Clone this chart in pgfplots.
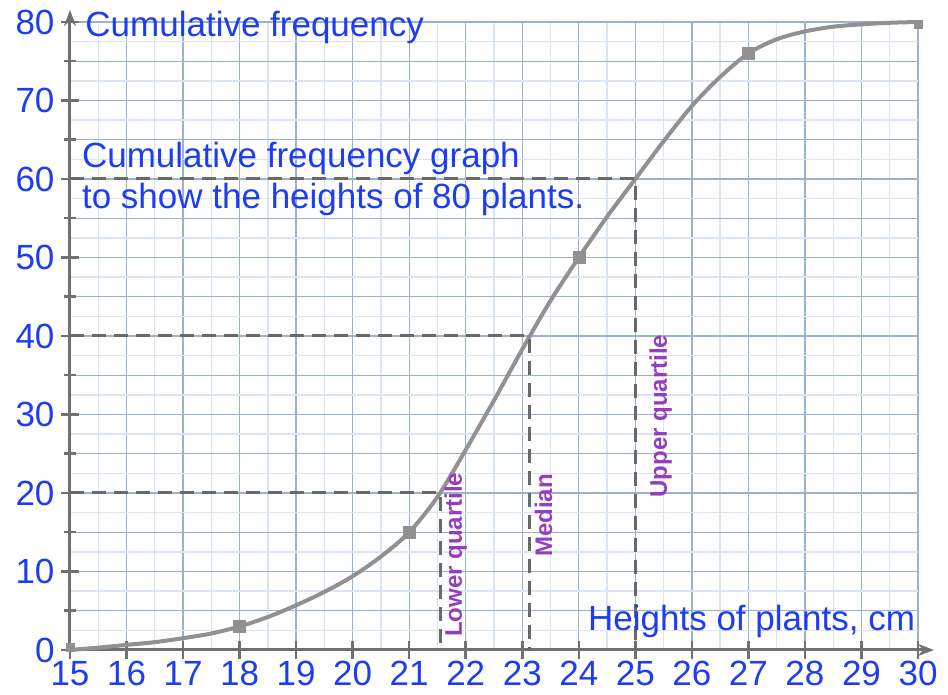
\documentclass[border=0pt]{standalone}
\usepackage{pgfplots}
\pgfplotsset{compat=1.18}
\usepackage{fontspec}
\setmainfont{Liberation Sans}
\usetikzlibrary{arrows.meta,calc}
\definecolor{txtblue}{RGB}{30,60,240}
\definecolor{qpurple}{RGB}{150,60,190}
\definecolor{gmaj}{RGB}{155,178,206}
\definecolor{gmin}{RGB}{220,229,242}
\definecolor{axgray}{RGB}{112,112,112}
\definecolor{curvegray}{RGB}{145,145,145}
\definecolor{dashgray}{RGB}{105,105,105}
\begin{document}
\begin{tikzpicture}
\begin{axis}[
  name=ax,
  scale only axis, width=848pt, height=628pt,
  xmin=15, xmax=30, ymin=0, ymax=80,
  axis lines=left,
  clip=false,
  xtick={15,16,...,30},
  ytick={0,10,...,80},
  minor xtick={15.5,16.5,...,29.5},
  minor ytick={2.5,7.5,...,77.5},
  extra y ticks={5,15,...,75},
  extra y tick labels={},
  extra y tick style={major tick length=12pt, major grid style={gmaj, line width=1.3pt}},
  grid=both,
  major grid style={gmaj, line width=1.3pt},
  minor grid style={gmin, line width=1.3pt},
  minor tick length=0pt,
  major tick length=18pt,
  tick align=center,
  tick style={axgray, line width=2.5pt},
  axis line style={axgray, line width=3pt},
  x axis line style={-{Stealth[length=16pt,width=12pt]}, shorten >=-16pt},
  y axis line style={-{Stealth[length=16pt,width=12pt]}, shorten >=-12pt},
  /pgf/number format/assume math mode=true,
  ticklabel style={font=\fontsize{35}{38}\selectfont, text=txtblue},
  yticklabel style={xshift=-3pt},
  xticklabel style={yshift=1pt},
]
\addplot[curvegray, line width=4pt, smooth] coordinates {
(15,0) (15.5,0.3) (16,0.65) (16.5,1.0) (17,1.5) (17.5,2.1) (18,3) (18.5,4.2)
(19,5.7) (19.5,7.4) (20,9.4) (20.5,11.9) (21,15) (21.5,19.5) (22,25.5)
(22.5,31.8) (23,38.3) (23.5,44.5) (24,50) (24.5,55.2) (25,60) (25.5,64.8)
(26,69.3) (26.5,73) (27,76) (27.5,77.8) (28,78.8) (28.5,79.4) (29,79.7)
(29.5,79.9) (30,80)};
\addplot[only marks, mark=square*, mark size=6pt, color=curvegray] coordinates {
(18,3) (21,15) (24,50) (27,76)};
\addplot[only marks, mark=square*, mark size=4pt, color=curvegray] coordinates {
(15,0.3) (30,79.7)};
\addplot[dashgray, line width=3pt, dash pattern=on 14pt off 8pt] coordinates {(15,20) (21.55,20) (21.55,0)};
\addplot[dashgray, line width=3pt, dash pattern=on 14pt off 8pt] coordinates {(15,40) (23.12,40) (23.12,0)};
\addplot[dashgray, line width=3pt, dash pattern=on 14pt off 8pt] coordinates {(15,60) (25,60) (25,0)};
\node[anchor=base west, inner sep=0, text=txtblue, font=\fontsize{35}{38}\selectfont] at (axis cs:15.27,78.1) {Cumulative frequency};
\node[anchor=base west, inner sep=0, text=txtblue, font=\fontsize{35}{38}\selectfont] at (axis cs:15.21,61.5) {Cumulative frequency graph};
\node[anchor=base west, inner sep=0, text=txtblue, font=\fontsize{35}{38}\selectfont] at (axis cs:15.21,56.3) {to show the heights of 80 plants.};
\node[anchor=base east, inner sep=0, text=txtblue, font=\fontsize{35}{38}\selectfont] at (axis cs:29.95,2.5) {Heights of plants, cm};
\node[rotate=90, anchor=base west, inner sep=0, text=qpurple, font=\bfseries\fontsize{24}{27}\selectfont] at (axis cs:21.93,1.66) {Lower quartile};
\node[rotate=90, anchor=base west, inner sep=0, text=qpurple, font=\bfseries\fontsize{24}{27}\selectfont] at (axis cs:23.53,11.85) {Median};
\node[rotate=90, anchor=base west, inner sep=0, text=qpurple, font=\bfseries\fontsize{24}{27}\selectfont] at (axis cs:25.56,19.4) {Upper quartile};
\end{axis}
\pgfresetboundingbox
\useasboundingbox ($(ax.south west)+(-70pt,-45pt)$) rectangle ($(ax.north east)+(30pt,22pt)$);
\end{tikzpicture}
\end{document}
